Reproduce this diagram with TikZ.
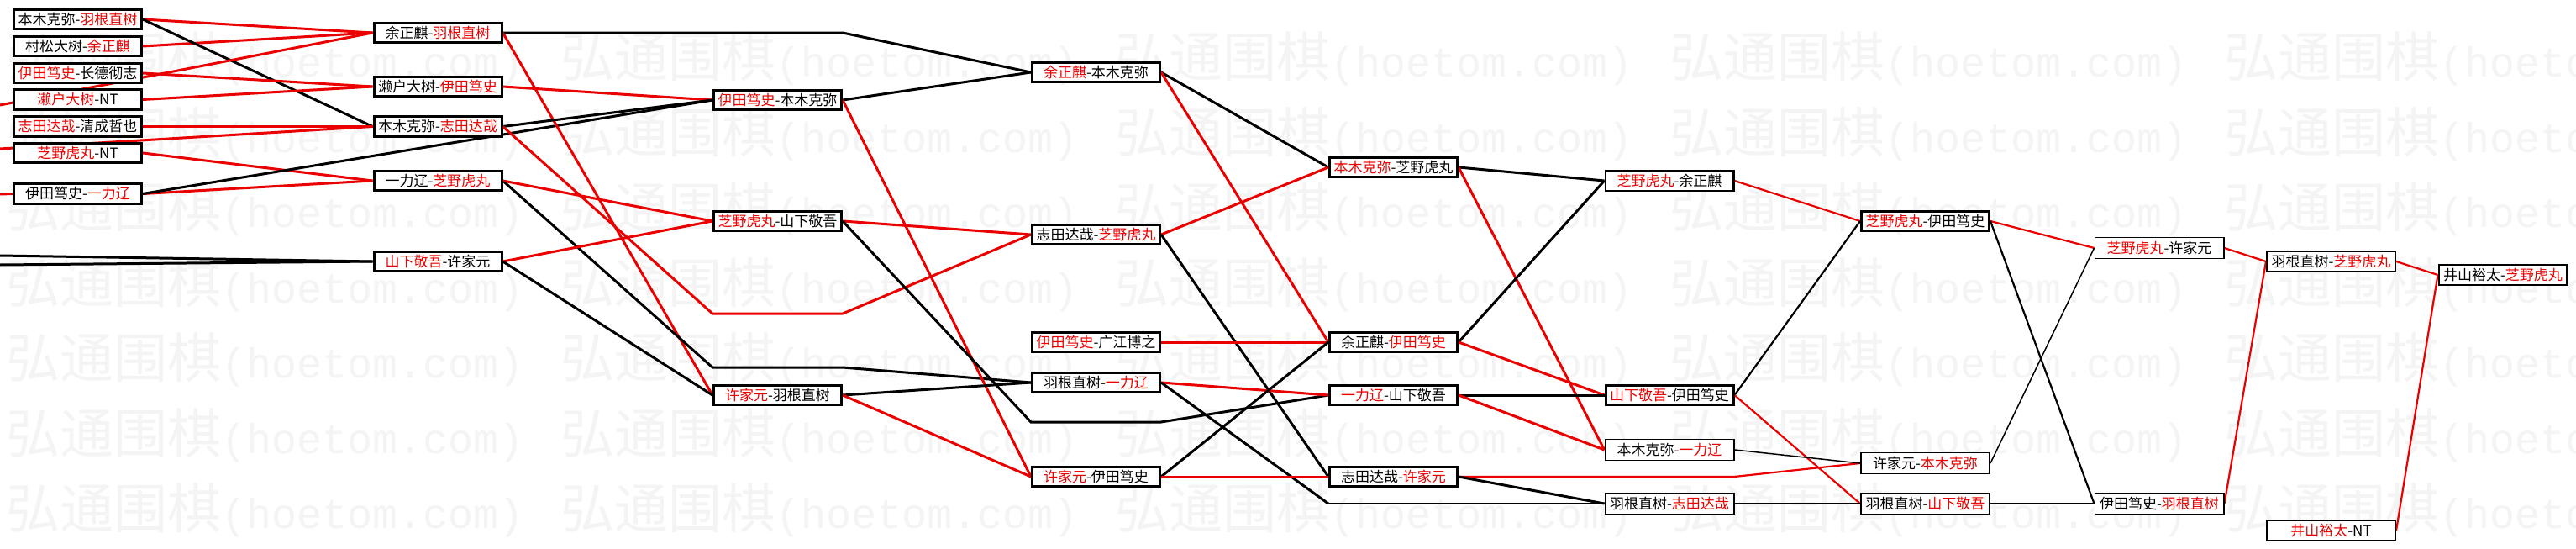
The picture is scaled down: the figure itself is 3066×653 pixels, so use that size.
\documentclass[tikz,border=0pt]{standalone}
\usepackage{fontspec}
\newfontfamily\cjk{Noto Sans CJK SC}
\newfontfamily\wmono{Liberation Mono}
\usetikzlibrary{backgrounds}
\definecolor{rd}{RGB}{235,0,0}
\definecolor{wmgray}{gray}{0.955}
\newcommand{\rn}[1]{\textcolor{rd}{#1}}
\tikzset{
  pbox/.style={draw=black, fill=white, line width=3pt, minimum width=152pt, minimum height=23.5pt, inner sep=0pt, font=\cjk\fontsize{17pt}{18pt}\selectfont},
  pboxm/.style={pbox, line width=2.2pt, minimum width=152.8pt, minimum height=24.3pt},
  pboxt/.style={pbox, line width=1.7pt, minimum width=153.3pt, minimum height=24.8pt},
  rk/.style={draw=rd, line width=3pt},
  bk/.style={draw=black, line width=3pt},
  rm/.style={draw=rd, line width=2.2pt},
  bm/.style={draw=black, line width=2.2pt},
  bt/.style={draw=black, line width=1.5pt},
  wmk/.style={text=wmgray, inner sep=0pt, anchor=west},
}
\begin{document}
\begin{tikzpicture}[x=1pt,y=-1pt]
\useasboundingbox (0,0) rectangle (3066,653);
% column 1
\node[pbox] (a1) at (92.5,23) {本木克弥-\rn{羽根直树}};
\node[pbox] (a2) at (92.5,55) {村松大树-\rn{余正麒}};
\node[pbox] (a3) at (92.5,87) {\rn{伊田笃史}-长德彻志};
\node[pbox] (a4) at (92.5,118.5) {\rn{濑户大树}-NT};
\node[pbox] (a5) at (92.5,150.5) {\rn{志田达哉}-清成哲也};
\node[pbox] (a6) at (92.5,182) {\rn{芝野虎丸}-NT};
\node[pbox] (a7) at (92.5,230.5) {伊田笃史-\rn{一力辽}};
% column 2
\node[pbox] (b1) at (521,39) {余正麒-\rn{羽根直树}};
\node[pbox] (b2) at (521,103) {濑户大树-\rn{伊田笃史}};
\node[pbox] (b3) at (521,150.5) {本木克弥-\rn{志田达哉}};
\node[pbox] (b4) at (521,215) {一力辽-\rn{芝野虎丸}};
\node[pbox] (b5) at (521,311) {\rn{山下敬吾}-许家元};
% column 3
\node[pbox] (c1) at (925.5,119) {\rn{伊田笃史}-本木克弥};
\node[pbox] (c2) at (925.5,263) {\rn{芝野虎丸}-山下敬吾};
\node[pbox] (c3) at (925.5,470) {\rn{许家元}-羽根直树};
% column 4
\node[pbox] (d1) at (1304.5,86) {\rn{余正麒}-本木克弥};
\node[pbox] (d2) at (1304.5,279) {志田达哉-\rn{芝野虎丸}};
\node[pbox] (d3) at (1304.5,407) {\rn{伊田笃史}-广江博之};
\node[pbox] (d4) at (1304.5,455) {羽根直树-\rn{一力辽}};
\node[pbox] (d5) at (1304.5,567) {\rn{许家元}-伊田笃史};
% column 5
\node[pbox] (e1) at (1658.5,199) {\rn{本木克弥}-芝野虎丸};
\node[pbox] (e2) at (1658.5,407) {余正麒-\rn{伊田笃史}};
\node[pbox] (e3) at (1658.5,470) {\rn{一力辽}-山下敬吾};
\node[pbox] (e4) at (1658.5,567) {志田达哉-\rn{许家元}};
% column 6
\node[pboxm] (f1) at (1987,215) {\rn{芝野虎丸}-余正麒};
\node[pbox] (f2) at (1987,470) {\rn{山下敬吾}-伊田笃史};
\node[pboxt] (f3) at (1987,535) {本木克弥-\rn{一力辽}};
\node[pboxt] (f4) at (1987,599) {羽根直树-\rn{志田达哉}};
% column 7
\node[pbox] (g1) at (2291.5,263) {\rn{芝野虎丸}-伊田笃史};
\node[pboxt] (g2) at (2291.5,551) {许家元-\rn{本木克弥}};
\node[pboxt] (g3) at (2291.5,599) {羽根直树-\rn{山下敬吾}};
% column 8
\node[pboxt] (h1) at (2570,295) {\rn{芝野虎丸}-许家元};
\node[pboxt] (h2) at (2570,599) {伊田笃史-\rn{羽根直树}};
% column 9
\node[pboxm] (i1) at (2774.5,311) {羽根直树-\rn{芝野虎丸}};
\node[pboxm] (i2) at (2774.5,631) {\rn{井山裕太}-NT};
% column 10
\node[pboxm] (j1) at (2979,327) {井山裕太-\rn{芝野虎丸}};
% free ends and bends
\coordinate (L1) at (0,125);
\coordinate (L2) at (0,177);
\coordinate (L3) at (0,231);
\coordinate (L4) at (0,304);
\coordinate (L5) at (0,315);
\coordinate (p1a) at (848,39);
\coordinate (p1b) at (1003,39);
\coordinate (p2a) at (848,373);
\coordinate (p2b) at (1003,373);
\coordinate (p3a) at (848,437);
\coordinate (p3b) at (1003,437);
\coordinate (p4a) at (1227,502);
\coordinate (p4b) at (1382,502);
\coordinate (p5a) at (1581,599);
\coordinate (p6a) at (2064,567);
\begin{pgfonlayer}{background}
\begin{scope}
\clip (0,0) rectangle (3066,653);
\fill[white] (0,0) rectangle (3066,653);
\foreach \yy [count=\i] in {70,159.5,249,338.5,428,517.5,607}
  \foreach \xx [count=\j] in {7,667,1327,1987,2647}
    \node[wmk] (wm\i-\j) at (\xx,\yy) {{\cjk\fontsize{64pt}{66pt}\selectfont 弘通围棋}{\wmono\fontsize{50pt}{52pt}\selectfont(hoetom.com)}};
% round 1 -> 2
\draw[rk] (a1.east) -- (b1.west);
\draw[rk] (a2.east) -- (b1.west);
\draw[bk] (a1.east) -- (b3.west);
\draw[rk] (a3.east) -- (b2.west);
\draw[rk] (a4.east) -- (b2.west);
\draw[rk] (L1) -- (b1.west);
\draw[rk] (a5.east) -- (b3.west);
\draw[rk] (L2) -- (b3.west);
\draw[rk] (a6.east) -- (b4.west);
\draw[rk] (a7.east) -- (b4.west);
\draw[bk] (a7.east) -- (c1.west);
\draw[rk] (L3) -- (a7.west);
\draw[bk] (L4) -- (b5.west);
\draw[bk] (L5) -- (b5.west);
% round 2 -> 3
\draw[bk] (b1.east) -- (p1a) -- (p1b) -- (d1.west);
\draw[rk] (b1.east) -- (c3.west);
\draw[rk] (b2.east) -- (c1.west);
\draw[bk] (b3.east) -- (c1.west);
\draw[rk] (b3.east) -- (p2a) -- (p2b) -- (d2.west);
\draw[bk] (b4.east) -- (p3a) -- (p3b) -- (d4.west);
\draw[rk] (b4.east) -- (c2.west);
\draw[rk] (b5.east) -- (c2.west);
\draw[bk] (b5.east) -- (c3.west);
% round 3 -> 4
\draw[bk] (c1.east) -- (d1.west);
\draw[rk] (c1.east) -- (d5.west);
\draw[rk] (c2.east) -- (d2.west);
\draw[bk] (c2.east) -- (p4a) -- (p4b) -- (e3.west);
\draw[bk] (c3.east) -- (d4.west);
\draw[rk] (c3.east) -- (d5.west);
% round 4 -> 5
\draw[bk] (d1.east) -- (e1.west);
\draw[rk] (d1.east) -- (e2.west);
\draw[rk] (d2.east) -- (e1.west);
\draw[bk] (d2.east) -- (e4.west);
\draw[rk] (d3.east) -- (e2.west);
\draw[rk] (d4.east) -- (e3.west);
\draw[bk] (d4.east) -- (p5a);
\draw[bt] (p5a) -- (f4.west);
\draw[bk] (d5.east) -- (e2.west);
\draw[rk] (d5.east) -- (e4.west);
% round 5 -> 6
\draw[bk] (e1.east) -- (f1.west);
\draw[rk] (e1.east) -- (f3.west);
\draw[bk] (e2.east) -- (f1.west);
\draw[rk] (e2.east) -- (f2.west);
\draw[bk] (e3.east) -- (f2.west);
\draw[rk] (e3.east) -- (f3.west);
\draw[rm] (e4.east) -- (p6a) -- (g2.west);
\draw[bk] (e4.east) -- (f4.west);
% round 6 -> 7
\draw[rm] (f1.east) -- (g1.west);
\draw[bm] (f2.east) -- (g1.west);
\draw[rm] (f2.east) -- (g3.west);
\draw[bt] (f3.east) -- (g2.west);
\draw[bt] (f4.east) -- (g3.west);
% round 7 -> 8
\draw[rm] (g1.east) -- (h1.west);
\draw[bm] (g1.east) -- (h2.west);
\draw[bt] (g2.east) -- (h1.west);
\draw[bt] (g3.east) -- (h2.west);
% round 8 -> 9
\draw[rm] (h1.east) -- (i1.west);
\draw[rm] (h2.east) -- (i1.west);
% round 9 -> 10
\draw[rm] (i1.east) -- (j1.west);
\draw[rm] (i2.east) -- (j1.west);
\end{scope}
\end{pgfonlayer}
\end{tikzpicture}
\end{document}
